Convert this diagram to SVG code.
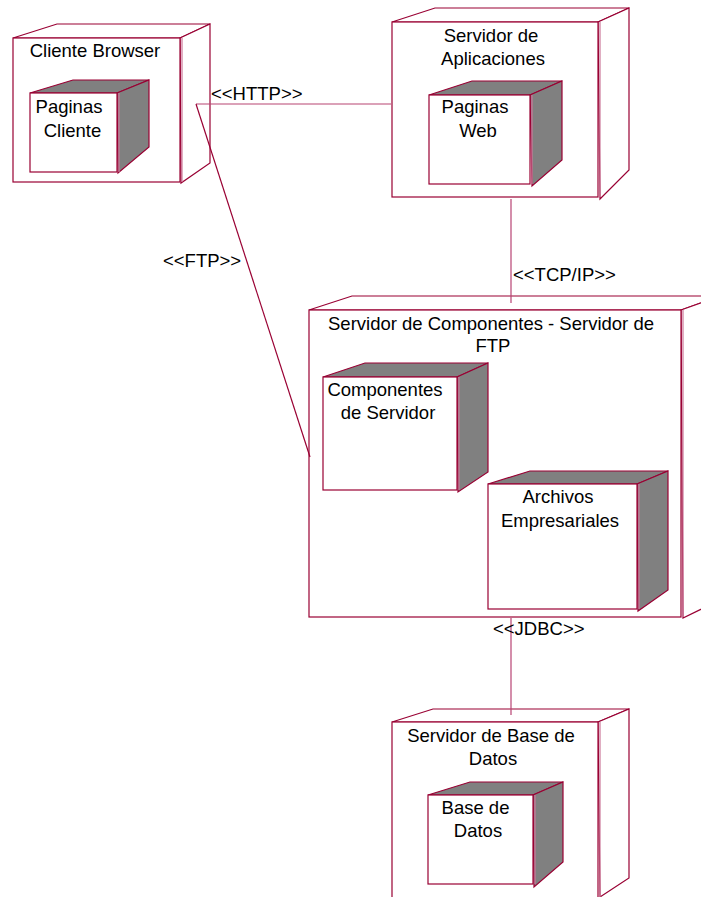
<svg xmlns="http://www.w3.org/2000/svg" width="701" height="897" viewBox="0 0 701 897">
<style>
.bg{fill:#ffffff}
.f{fill:#ffffff;stroke:#990033;stroke-width:1.2}
.g{fill:#808080;stroke:#990033;stroke-width:1.2}
.d{fill:none;stroke:#cc7799;stroke-width:1.2}
.c{fill:none;stroke:#b84473;stroke-width:1.2}
text{font-family:"Liberation Sans",Arial,sans-serif;font-size:18.5px;fill:#000000}
.m{text-anchor:middle}
</style>
<rect class="bg" x="0" y="0" width="701" height="897"/>
<g id="cliente-browser">
<polygon class="f" points="13,38 57,24 210,24 180,38"/>
<polygon class="f" points="180,38 210,24 210,163 181,183"/>
<rect class="f" x="13" y="38" width="167" height="144"/>
<line class="d" x1="182" y1="38" x2="182" y2="182"/>
<text class="m" x="95" y="57">Cliente Browser</text>
<g id="paginas-cliente">
<polygon class="g" points="30,93 73,80 149,80 117,93"/>
<polygon class="g" points="117,93 149,80 149,147 118,173"/>
<rect class="f" x="30" y="93" width="87" height="79"/>
<line class="d" x1="119" y1="93" x2="119" y2="172"/>
<text class="m" x="69" y="113">Paginas</text>
<text class="m" x="72.5" y="137">Cliente</text>
</g>
</g>
<g id="servidor-aplicaciones">
<polygon class="f" points="392,22 435,8 629,8 598,22"/>
<polygon class="f" points="598,22 629,8 629,170 600,199"/>
<rect class="f" x="392" y="22" width="206" height="175"/>
<line class="d" x1="600" y1="22" x2="600" y2="197"/>
<text class="m" x="491" y="42">Servidor de</text>
<text class="m" x="493" y="65">Aplicaciones</text>
<g id="paginas-web">
<polygon class="g" points="429,95 472,81 562,81 530,95"/>
<polygon class="g" points="530,95 562,81 562,160 532,186"/>
<rect class="f" x="429" y="95" width="101" height="89"/>
<line class="d" x1="532" y1="95" x2="532" y2="184"/>
<text class="m" x="475" y="113">Paginas</text>
<text class="m" x="478" y="137">Web</text>
</g>
</g>
<g id="servidor-componentes">
<polygon class="f" points="309,310 352,296 720,296 681,310"/>
<polygon class="f" points="681,310 720,296 720,600 683,618"/>
<rect class="f" x="309" y="310" width="372" height="307"/>
<line class="d" x1="683" y1="310" x2="683" y2="617"/>
<text class="m" x="491" y="330">Servidor de Componentes - Servidor de</text>
<text class="m" x="493" y="352">FTP</text>
<g id="componentes-servidor">
<polygon class="g" points="323,377 365,363 488,363 457,377"/>
<polygon class="g" points="457,377 488,363 488,472 458,492"/>
<rect class="f" x="323" y="377" width="134" height="113"/>
<line class="d" x1="459" y1="377" x2="459" y2="490"/>
<text class="m" x="385" y="396">Componentes</text>
<text class="m" x="388" y="419">de Servidor</text>
</g>
<g id="archivos-empresariales">
<polygon class="g" points="488,484 530,471 668,471 637,484"/>
<polygon class="g" points="637,484 668,471 668,590 638,611"/>
<rect class="f" x="488" y="484" width="149" height="125"/>
<line class="d" x1="639" y1="484" x2="639" y2="609"/>
<text class="m" x="558" y="503">Archivos</text>
<text class="m" x="560" y="527">Empresariales</text>
</g>
</g>
<g id="servidor-base-datos">
<polygon class="f" points="392,722 433,709 629,709 598,722"/>
<polygon class="f" points="598,722 629,709 629,878 600,897"/>
<rect class="f" x="392" y="722" width="206" height="190"/>
<line class="d" x1="600" y1="722" x2="600" y2="912"/>
<text class="m" x="491" y="742">Servidor de Base de</text>
<text class="m" x="493" y="765">Datos</text>
<g id="base-datos">
<polygon class="g" points="428,795 470,782 563,782 533,795"/>
<polygon class="g" points="533,795 563,782 563,862 534,887"/>
<rect class="f" x="428" y="795" width="105" height="89"/>
<line class="d" x1="535" y1="795" x2="535" y2="884"/>
<text class="m" x="475.5" y="814">Base de</text>
<text class="m" x="478" y="837">Datos</text>
</g>
</g>
<g id="connectors">
<line class="c" x1="196" y1="104" x2="391" y2="104"/>
<line class="c" x1="196" y1="104" x2="310" y2="457" style="stroke:#990033"/>
<line class="c" x1="511" y1="199" x2="511" y2="303"/>
<line class="c" x1="511" y1="618" x2="511" y2="715"/>
<text x="211" y="100">&lt;&lt;HTTP&gt;&gt;</text>
<text x="163" y="267">&lt;&lt;FTP&gt;&gt;</text>
<text x="513" y="281">&lt;&lt;TCP/IP&gt;&gt;</text>
<text x="493" y="635">&lt;&lt;JDBC&gt;&gt;</text>
</g>
</svg>
